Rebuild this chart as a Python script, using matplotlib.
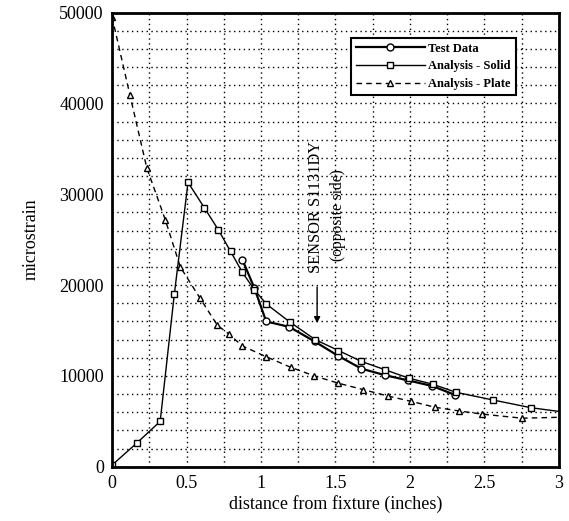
import numpy as np
import matplotlib
matplotlib.use('Agg')
from matplotlib import pyplot as plt
from matplotlib.ticker import MultipleLocator, FormatStrFormatter

plt.rcParams['font.family'] = ['Liberation Serif', 'DejaVu Serif']

# Test Data
test_x = [0.875, 0.955, 1.035, 1.19, 1.36, 1.52, 1.675, 1.83, 1.99, 2.15, 2.305]
test_y = [22800, 19700, 16000, 15400, 13800, 12200, 10800, 10100, 9500, 8900, 7900]

# Analysis - Solid
solid_x = [0, 0.165, 0.323, 0.418, 0.51, 0.62, 0.713, 0.796, 0.875, 0.955, 1.037,
           1.197, 1.364, 1.52, 1.674, 1.83, 1.994, 2.152, 2.31, 2.56, 2.815, 3.0]
solid_y = [200, 2600, 5000, 19000, 31300, 28500, 26100, 23700, 21400, 19500, 17900,
           15900, 14000, 12800, 11600, 10700, 9750, 9100, 8200, 7350, 6500, 6100]

# Analysis - Plate
plate_x = [0, 0.12, 0.233, 0.357, 0.458, 0.589, 0.706, 0.785, 0.875, 1.037, 1.20,
           1.359, 1.52, 1.686, 1.85, 2.01, 2.17, 2.33, 2.485, 2.755, 3.0]
plate_y = [49500, 40900, 32900, 27200, 22000, 18600, 15600, 14600, 13300, 12100, 10950,
           10000, 9200, 8500, 7800, 7200, 6550, 6150, 5800, 5350, 5450]

fig = plt.figure(figsize=(5.69, 5.21), dpi=100)
ax = fig.add_axes([0.197, 0.104, 0.785, 0.872])

ax.plot(test_x, test_y, '-', color='black', lw=1.6, marker='o', ms=5,
        mfc='white', mec='black', mew=1.0, label='Test Data')
ax.plot(solid_x, solid_y, '-', color='black', lw=1.0, marker='s', ms=5,
        mfc='white', mec='black', mew=1.0, markevery=slice(0, len(solid_x) - 1),
        label='Analysis - Solid')
ax.plot(plate_x, plate_y, '--', color='black', lw=1.0, dashes=(4, 3), marker='^', ms=5,
        mfc='white', mec='black', mew=1.0, markevery=slice(0, len(plate_x) - 1),
        label='Analysis - Plate')

ax.set_xlim(0, 3)
ax.set_ylim(0, 50000)
ax.xaxis.set_major_locator(MultipleLocator(0.5))
ax.xaxis.set_minor_locator(MultipleLocator(0.25))
ax.yaxis.set_major_locator(MultipleLocator(10000))
ax.yaxis.set_minor_locator(MultipleLocator(2000))
ax.xaxis.set_major_formatter(FormatStrFormatter('%g'))
ax.grid(which='both', color='black', linestyle=(0, (1, 2.5)), lw=1.0)
ax.tick_params(which='both', length=0, labelsize=13, pad=6)
for s in ax.spines.values():
    s.set_linewidth(2)

ax.set_xlabel('distance from fixture (inches)', fontsize=13, labelpad=2)
ax.set_ylabel('microstrain', fontsize=13, labelpad=14)

ax.text(1.372, 21300, 'SENSOR S1131DY', rotation=90, ha='center', va='bottom', fontsize=11.8)
ax.text(1.52, 22700, '(opposite side)', rotation=90, ha='center', va='bottom', fontsize=11.2)
ax.annotate('', xy=(1.377, 15500), xytext=(1.377, 20100),
            arrowprops=dict(arrowstyle='-|>', color='black', lw=1.0, mutation_scale=9))

leg = ax.legend(loc='upper right', bbox_to_anchor=(0.918, 0.958), fancybox=False,
                edgecolor='black', framealpha=1, handlelength=5.5,
                prop={'size': 9, 'weight': 'bold'}, borderpad=0.4, labelspacing=0.45,
                handletextpad=0.3)
leg.get_frame().set_linewidth(1.5)

fig.savefig('out.png', dpi=100)
